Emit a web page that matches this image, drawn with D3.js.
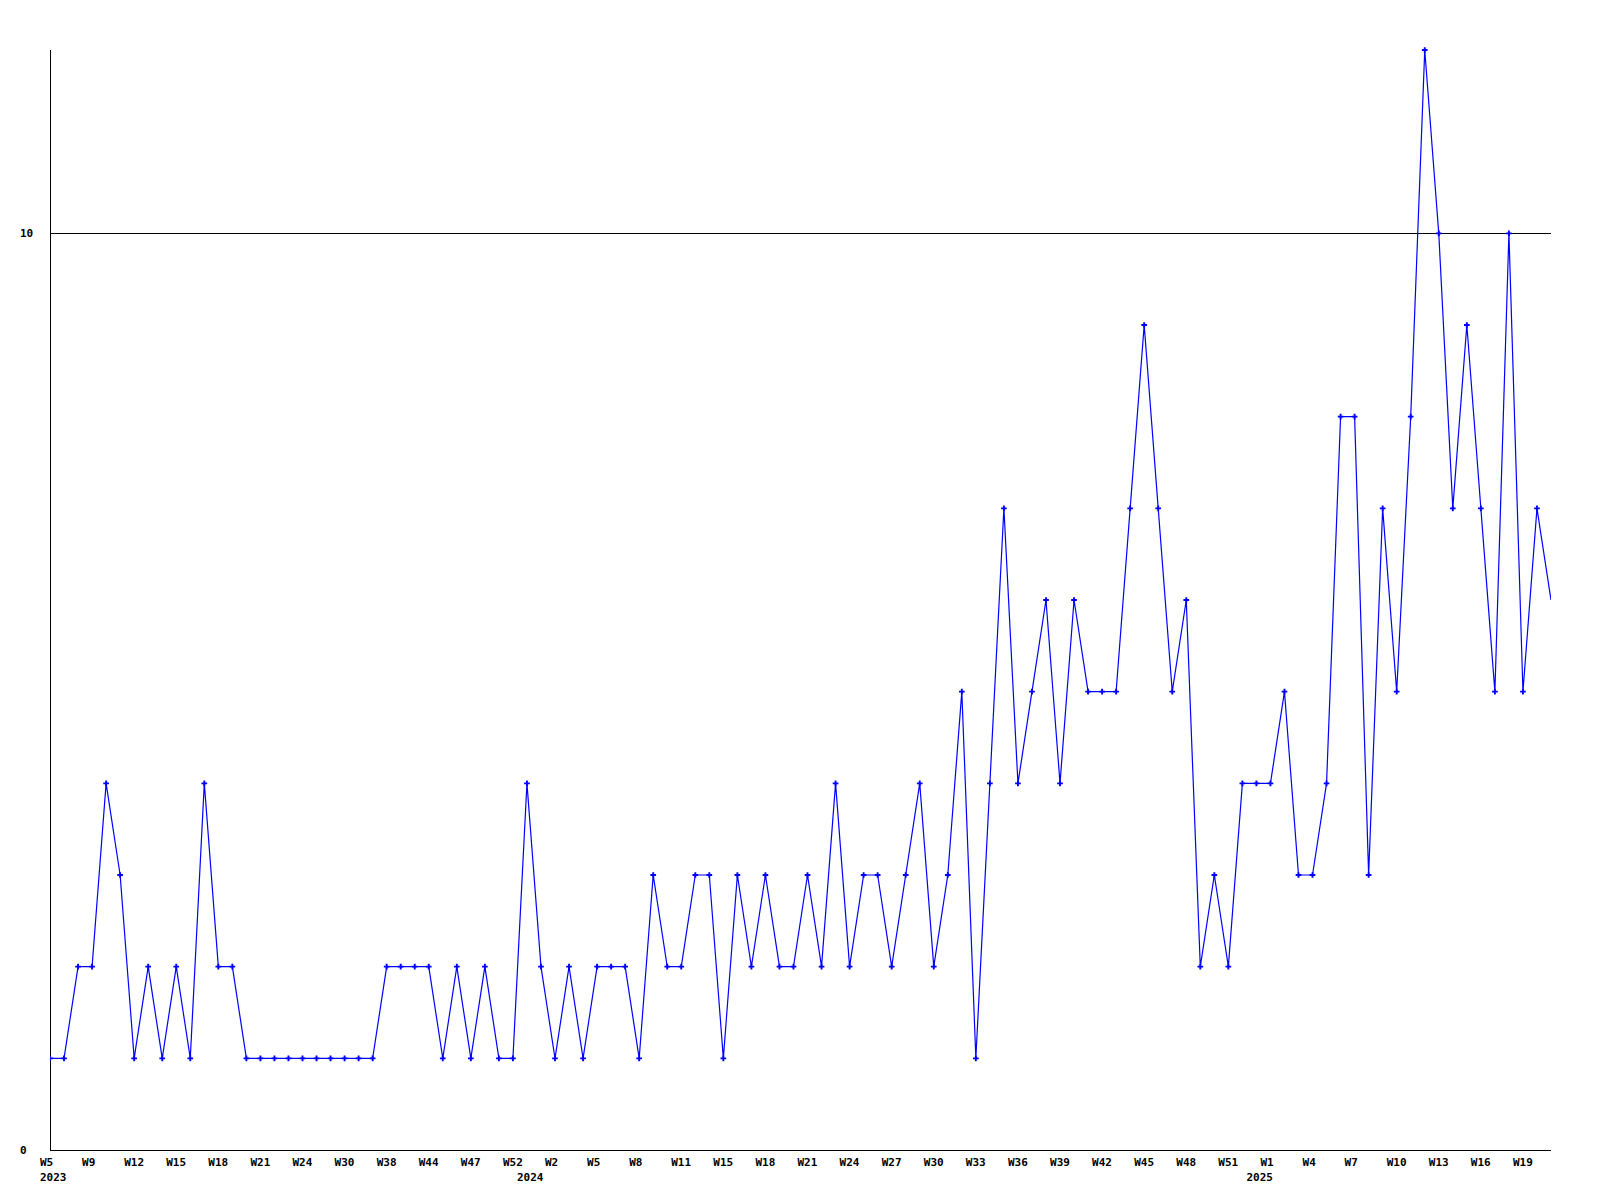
<!DOCTYPE html>
<html>
<head>
<meta charset="utf-8">
<script src="https://cdn.jsdelivr.net/npm/d3@7/dist/d3.min.js"></script>
<style>
  html, body { margin: 0; padding: 0; background: #ffffff; }
  svg { display: block; }
  text { font-family: "DejaVu Sans Mono", "Liberation Mono", monospace; font-weight: bold; font-size: 11px; fill: #000; }
</style>
</head>
<body>
<script>
// Weekly values, one per data point (108 weeks, W5 2023 .. ~W21 2025)
const values = [
  1,1,2,2,4,3,1,2,1,2,
  1,4,2,2,1,1,1,1,1,1,
  1,1,1,1,2,2,2,2,1,2,
  1,2,1,1,4,2,1,2,1,2,
  2,2,1,3,2,2,3,3,1,3,
  2,3,2,2,3,2,4,2,3,3,
  2,3,4,2,3,5,1,4,7,4,
  5,6,4,6,5,5,5,7,9,7,
  5,6,2,3,2,4,4,4,5,3,
  3,4,8,8,3,7,5,8,12,10,
  7,9,7,5,10,5,7,6
];
const categories = values.map((v, i) => i);

// Week tick labels, shown every 3rd data point
const tickLabels = [
  "W5","W9","W12","W15","W18","W21","W24","W30","W38","W44","W47","W52",
  "W2","W5","W8","W11","W15","W18","W21","W24","W27","W30","W33","W36","W39","W42","W45","W48","W51",
  "W1","W4","W7","W10","W13","W16","W19"
];
const tickIndex = tickLabels.map((t, i) => i * 3);

// Year labels and the data point where each year starts
const yearLabels = ["2023", "2024", "2025"];
const yearIndex = [0, 34, 86];

// Y axis labelled values
const yTickValues = [0, 10];

const W = 1600, H = 1200;
const pLeft = 50, pRight = 1551, pTop = 50, pBottom = 1150;

const svg = d3.select("body").append("svg").attr("width", W).attr("height", H);
svg.append("rect").attr("width", W).attr("height", H).attr("fill", "#fff");

const x = d3.scaleLinear().domain([0, values.length - 1]).range([pLeft, pRight]);
const y = d3.scaleLinear().domain([0, 12]).range([pBottom, pTop]);

// grid line at 10
svg.append("g").selectAll("line").data(yTickValues.filter(v => v > 0)).join("line")
  .attr("x1", pLeft).attr("x2", pRight)
  .attr("y1", d => Math.round(y(d)) + 0.5).attr("y2", d => Math.round(y(d)) + 0.5)
  .attr("stroke", "#000").attr("stroke-width", 1).attr("shape-rendering", "crispEdges");

// axes lines
svg.append("line").attr("x1", pLeft + 0.5).attr("x2", pLeft + 0.5).attr("y1", pTop).attr("y2", pBottom + 1)
  .attr("stroke", "#000").attr("shape-rendering", "crispEdges");
svg.append("line").attr("x1", pLeft).attr("x2", pRight).attr("y1", pBottom + 0.5).attr("y2", pBottom + 0.5)
  .attr("stroke", "#000").attr("shape-rendering", "crispEdges");

// y labels
svg.append("g").selectAll("text").data(yTickValues).join("text")
  .attr("x", 20).attr("y", d => y(d)).attr("dy", "0.35em")
  .text(d => d);

// x week labels
svg.append("g").selectAll("text").data(tickLabels).join("text")
  .attr("x", (d, i) => x(tickIndex[i]) - 10).attr("y", 1162).attr("dy", "0.35em")
  .text(d => d);

// year labels
svg.append("g").selectAll("text").data(yearLabels).join("text")
  .attr("x", (d, i) => x(yearIndex[i]) - 10).attr("y", 1177).attr("dy", "0.35em")
  .text(d => d);

// clip
svg.append("clipPath").attr("id", "plotclip").append("rect")
  .attr("x", pLeft).attr("y", pTop - 5).attr("width", pRight - pLeft).attr("height", pBottom - pTop + 10);

const g = svg.append("g").attr("clip-path", "url(#plotclip)");

const line = d3.line().x((d, i) => x(categories[i])).y(d => y(d));
g.append("path").datum(values).attr("d", line)
  .attr("fill", "none").attr("stroke", "#0000ff").attr("stroke-width", 1.2);

const sym = d3.symbol().type(d3.symbolCross).size(18);
g.selectAll("path.m").data(values.map((v, i) => ({v, i})).filter(d => x(d.i) < pRight - 1)).join("path")
  .attr("class", "m")
  .attr("transform", d => `translate(${x(d.i)},${y(d.v)})`)
  .attr("d", sym).attr("fill", "#0000ff");
</script>
</body>
</html>
